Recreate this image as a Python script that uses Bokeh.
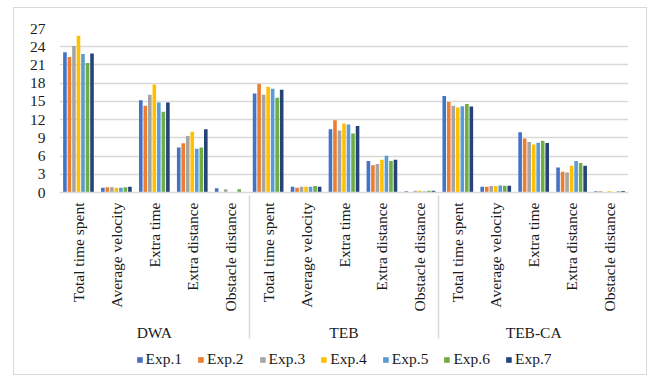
import math
from bokeh.plotting import figure
from bokeh.layouts import column
from bokeh.models import (FactorRange, Range1d, ColumnDataSource, Legend, LegendItem,
                          SingleIntervalTicker)
from bokeh.transform import dodge
from bokeh.embed import file_html
from bokeh.resources import INLINE

methods = ["DWA", "TEB", "TEB-CA"]
metrics = ["Total time spent", "Average velocity", "Extra time", "Extra distance", "Obstacle distance"]
experiments = ["Exp.1", "Exp.2", "Exp.3", "Exp.4", "Exp.5", "Exp.6", "Exp.7"]
colors = ["#4472C4", "#ED7D31", "#A5A5A5", "#FFC000", "#5B9BD5", "#70AD47", "#264478"]

# values per experiment: DWA (5 metrics), TEB (5 metrics), TEB-CA (5 metrics)
exp1 = [23.1, 0.80, 15.2, 7.4, 0.70, 16.3, 0.95, 10.4, 5.2, 0.20, 15.9, 0.95, 9.9, 4.1, 0.20]
exp2 = [22.3, 0.85, 14.3, 8.1, 0.00, 17.9, 0.80, 11.9, 4.5, 0.05, 14.9, 0.95, 8.9, 3.4, 0.20]
exp3 = [24.1, 0.85, 16.1, 9.3, 0.55, 16.1, 0.95, 10.2, 4.7, 0.28, 14.3, 1.05, 8.3, 3.3, 0.10]
exp4 = [25.8, 0.80, 17.8, 10.0, 0.00, 17.4, 0.95, 11.35, 5.4, 0.28, 14.0, 1.05, 7.9, 4.4, 0.20]
exp5 = [22.8, 0.80, 14.8, 7.2, 0.00, 17.1, 0.95, 11.2, 6.05, 0.17, 14.2, 1.15, 8.2, 5.2, 0.10]
exp6 = [21.3, 0.85, 13.3, 7.4, 0.55, 15.6, 1.05, 9.7, 5.2, 0.28, 14.55, 1.10, 8.5, 4.85, 0.20]
exp7 = [22.9, 0.95, 14.8, 10.4, 0.00, 16.9, 0.95, 10.95, 5.4, 0.28, 14.15, 1.10, 8.15, 4.4, 0.25]
series = [exp1, exp2, exp3, exp4, exp5, exp6, exp7]
y_ticks_interval = 3
y_max = 27

FONT = "Liberation Serif"
FS = "15.5px"
TXT = "#1a1a1a"
GRID = "#d9d9d9"

factors = [(m, c) for m in methods for c in metrics]
data = {"x": factors}
for name, vals in zip(experiments, series):
    data[name] = vals
source = ColumnDataSource(data)

p = figure(frame_width=569, frame_height=164,
           output_backend="svg", toolbar_location=None,
           x_range=FactorRange(*factors, group_padding=0, factor_padding=0, subgroup_padding=0, range_padding=0),
           y_range=Range1d(0, y_max), min_border_top=20, min_border_left=45, min_border_right=18,
           min_border_bottom=0)
p.outline_line_color = None

step = 0.119
width = 0.095
for i, (name, col) in enumerate(zip(experiments, colors)):
    p.vbar(x=dodge("x", (i - 3) * step, range=p.x_range), top=name, width=width,
           source=source, color=col, line_color=None)

# axes
p.yaxis.ticker = SingleIntervalTicker(interval=y_ticks_interval)
p.yaxis.axis_line_color = None
p.yaxis.major_tick_line_color = None
p.yaxis.minor_tick_line_color = None
p.yaxis.major_label_text_font = FONT
p.yaxis.major_label_text_font_size = FS
p.yaxis.major_label_text_color = TXT
p.yaxis.major_label_standoff = 8

xa = p.xaxis[0]
xa.axis_line_color = GRID
xa.axis_line_width = 1.5
xa.major_tick_line_color = None
xa.minor_tick_line_color = None
xa.major_tick_out = 0
xa.major_tick_in = 0
xa.minor_tick_out = 0
xa.major_label_orientation = math.pi / 2
xa.major_label_text_font = FONT
xa.major_label_text_font_size = FS
xa.major_label_text_color = TXT
xa.major_label_standoff = 10
xa.group_text_font = FONT
xa.group_text_font_size = FS
xa.group_text_color = TXT
xa.group_text_font_style = "normal"
xa.separator_line_color = GRID
xa.separator_line_width = 1.5

p.xgrid.grid_line_color = None
p.ygrid.grid_line_color = GRID
p.ygrid.grid_line_width = 1.5
p.ygrid.ticker = SingleIntervalTicker(interval=y_ticks_interval)

# legend strip below the chart (swatch proxies sit outside the strip's visible range)
pl = figure(width=632, height=30, output_backend="svg", toolbar_location=None,
            x_range=Range1d(0, 1), y_range=Range1d(0, 1),
            min_border_top=0, min_border_left=0, min_border_right=0, min_border_bottom=0)
pl.axis.visible = False
pl.grid.grid_line_color = None
pl.outline_line_color = None
items = []
for name, col in zip(experiments, colors):
    r = pl.vbar(x=[-5], top=[-5], bottom=[-6], width=0.1, color=col, line_color=None)
    items.append(LegendItem(label=name, renderers=[r]))
legend = Legend(items=items, orientation="horizontal", location="center",
                label_text_font=FONT, label_text_font_size=FS, label_text_color=TXT,
                glyph_width=7, glyph_height=7, label_standoff=3, spacing=15,
                border_line_color=None, background_fill_alpha=0, padding=2, margin=0)
pl.add_layout(legend, "center")

layout = column(p, pl, spacing=0,
                styles={"border": "1px solid #d9d9d9", "margin-left": "13px", "margin-top": "7px"})

open("out.html", "w").write(file_html(layout, INLINE))
